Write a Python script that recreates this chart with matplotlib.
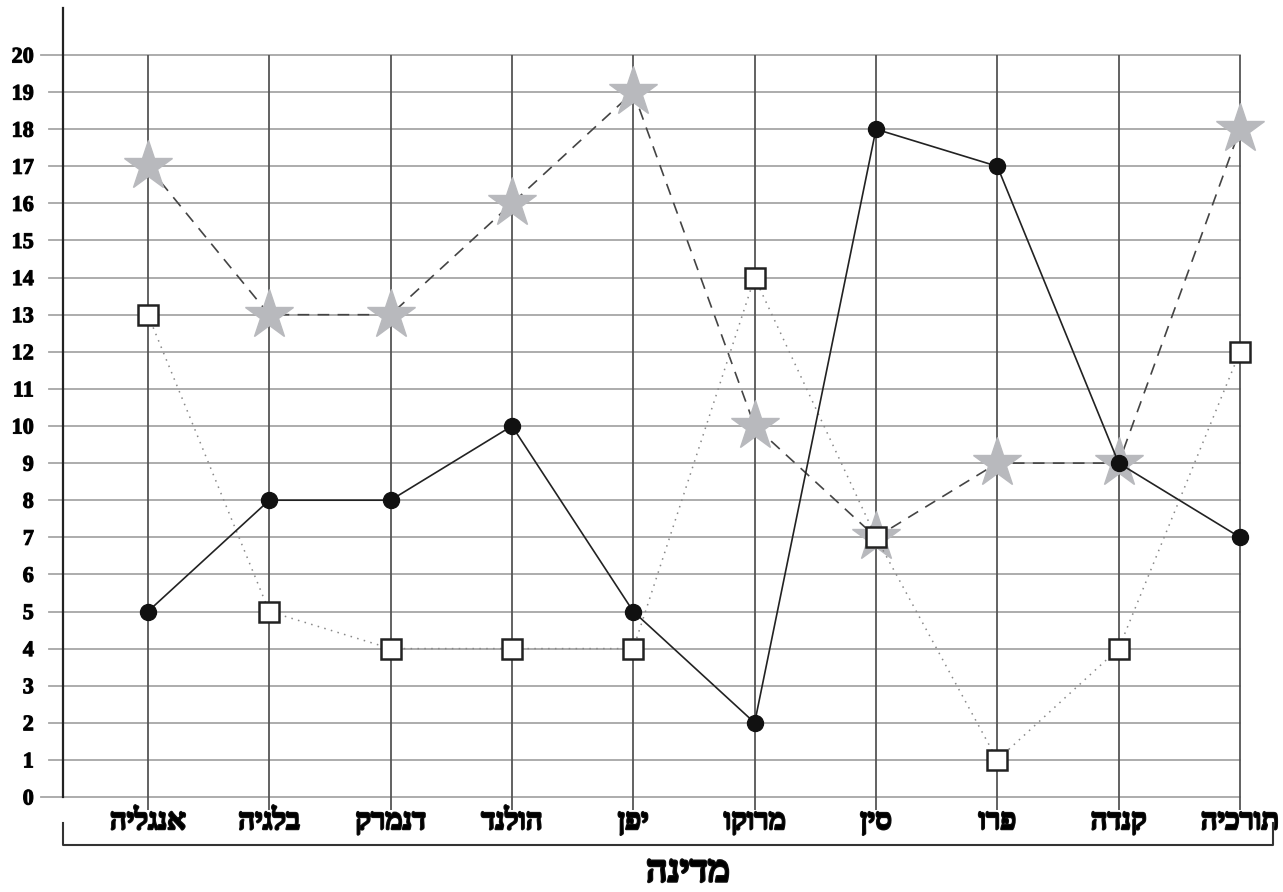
import numpy as np
from matplotlib import pyplot as plt
import matplotlib.patheffects as pe

countries = ["אנגליה", "בלגיה", "דנמרק", "הולנד", "יפן",
             "מרוקו", "סין", "פרו", "קנדה", "תורכיה"]
xlabel = "מדינה"
stars = [17, 13, 13, 16, 19, 10, 7, 9, 9, 18]
squares = [13, 5, 4, 4, 4, 14, 7, 1, 4, 12]
circles = [5, 8, 8, 10, 5, 2, 18, 17, 9, 7]
yticks = list(range(0, 21))

def rtl(s):  # matplotlib has no bidi, so flip the letters for display
    return s[::-1]

W, H = 1283, 892
fig = plt.figure(figsize=(W / 100, H / 100), dpi=100)
ax = fig.add_axes([63 / W, (H - 797) / H, (1273 - 63) / W, (797 - 8) / H])

x = np.arange(len(countries))
x0, x1 = -0.70, 9 + 33 / 121.33
ax.set_xlim(x0, x1)
ax.set_ylim(0, (797 - 8) / 37.1)

# grid: horizontal lines with stubs left of the axis, vertical lines per country
for v in yticks:
    stub = 22 / 121.33 if v in (0, 20) else 14 / 121.33
    ax.plot([x0 - stub, 9], [v, v], color="#a6a6a6", lw=1.3, zorder=1, clip_on=False)
ax.vlines(x, -13 / 37.1, 20, color="#555555", lw=1.3, zorder=1, clip_on=False)

# series
ax.plot(x, stars, color="#444444", ls=(0, (7, 5)), lw=1.2, zorder=2)
ax.plot(x, stars, ls="none", marker="*", ms=37, color="#b8b9bd", mec="#b8b9bd", zorder=3)
ax.plot(x, squares, color="#888888", ls=(0, (1, 3.5)), lw=1.1, zorder=4)
ax.plot(x, squares, ls="none", marker="s", ms=14, mfc="white", mec="#222222", mew=1.8, zorder=5)
ax.plot(x, circles, color="#222222", ls="-", lw=1.2, zorder=6)
ax.plot(x, circles, ls="none", marker="o", ms=11.5, color="#111111", zorder=7)

for s in ["top", "right", "bottom"]:
    ax.spines[s].set_visible(False)
ax.spines["left"].set_linewidth(1.6)
ax.spines["left"].set_color("#222222")

serif = ["Liberation Serif", "DejaVu Serif"]
ax.set_yticks(yticks)
ax.set_yticklabels([str(v) for v in yticks], fontfamily=serif, fontweight="bold", fontsize=16)
ax.tick_params(axis="y", length=0, pad=21)
ax.set_xticks(x)
ax.set_xticklabels([rtl(c) for c in countries], fontfamily=serif, fontweight="bold", fontsize=21)
ax.tick_params(axis="x", length=0, pad=8)
for t in ax.get_xticklabels():
    t.set_path_effects([pe.withStroke(linewidth=1.6, foreground="#111111")])
for t in ax.get_yticklabels():
    t.set_path_effects([pe.withStroke(linewidth=0.8, foreground="#111111")])

# bracket under the country names
bx = [63 / W, 63 / W, 1273 / W, 1273 / W]
by = [(H - 823) / H, (H - 845) / H, (H - 845) / H, (H - 823) / H]
fig.add_artist(plt.Line2D(bx, by, color="#333333", lw=1.5, transform=fig.transFigure))

fig.text(688 / W, 1 - 872 / H, rtl(xlabel), ha="center", va="center",
         fontfamily=serif, fontweight="bold", fontsize=27,
         path_effects=[pe.withStroke(linewidth=1.8, foreground="#111111")])

plt.savefig("out.png", dpi=100)
